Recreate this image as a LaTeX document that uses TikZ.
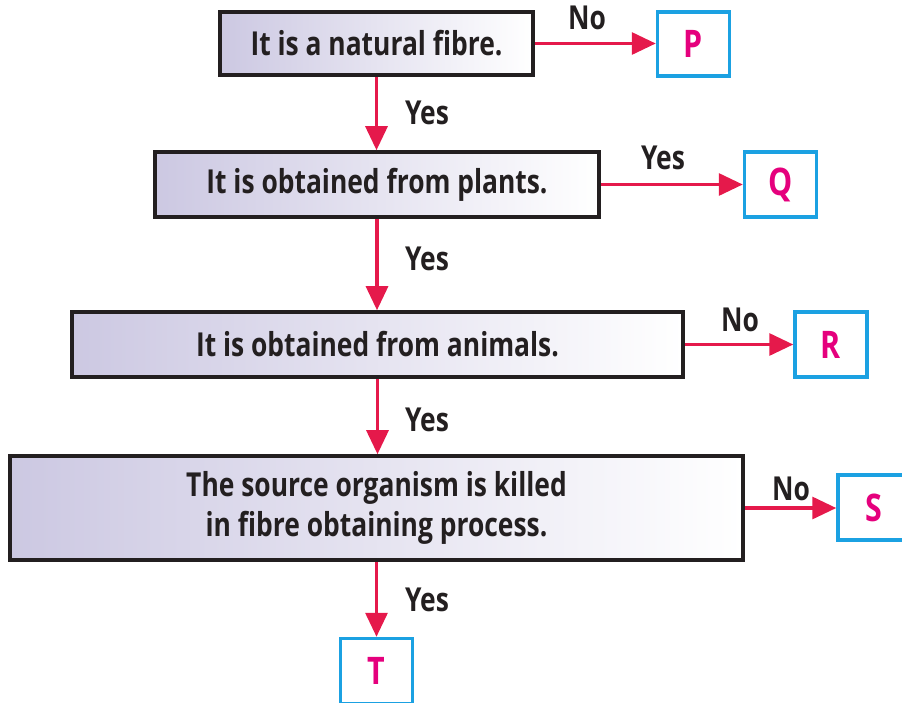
\documentclass[tikz,border=0pt]{standalone}
\usepackage{fontspec}
\setmainfont{Open Sans}[FakeStretch=0.8]
\usetikzlibrary{arrows.meta}
\definecolor{arrowred}{HTML}{E5194B}
\definecolor{lettermag}{HTML}{E5007D}
\definecolor{boxblue}{HTML}{1BA1E2}
\definecolor{txtdark}{HTML}{231F20}
\definecolor{shadel}{HTML}{CCC8E2}
\tikzset{
  stmt/.style={draw=txtdark, line width=3.6pt, left color=shadel, right color=white,
    font=\bfseries\fontsize{33}{40}\selectfont, text=txtdark, align=center, inner sep=0pt},
  outbox/.style={draw=boxblue, line width=3.5pt, fill=white, minimum width=72pt, minimum height=65pt,
    font=\bfseries\fontsize{38}{40}\selectfont, text=lettermag, inner sep=0pt},
  lbl/.style={font=\bfseries\fontsize{33}{36}\selectfont, text=txtdark, inner sep=0pt},
  arr/.style={draw=arrowred, line width=3.2pt, -{Triangle[length=24pt,width=22pt]}}
}
\begin{document}
\begin{tikzpicture}[x=1pt,y=-1pt]
\useasboundingbox (0,0) rectangle (902,702);
\clip (0,0) rectangle (902,702);
\node[stmt, minimum width=313pt, minimum height=63pt] (b1) at (376.5,43.5) {It is a natural fibre.};
\node[stmt, minimum width=444pt, minimum height=65pt] (b2) at (377,184.5) {It is obtained from plants.};
\node[stmt, minimum width=611pt, minimum height=65pt] (b3) at (377.5,344.5) {It is obtained from animals.};
\node[stmt, minimum width=733pt, minimum height=104pt] (b4) at (376.5,508) {The source organism is killed\\in fibre obtaining process.};
\node[outbox, minimum height=64pt] (P) at (693.5,44) {P};
\node[outbox] (Q) at (780.5,184.5) {Q};
\node[outbox] (R) at (831,344.5) {R};
\node[outbox] (S) at (874,507.5) {S};
\node[outbox] (T) at (376.5,671) {T};
\draw[arr] (b1.east) -- (b1.east -| P.west);
\draw[arr] (b2.east) -- (b2.east -| Q.west);
\draw[arr] (b3.east) -- (b3.east -| R.west);
\draw[arr] (b4.east) -- (b4.east -| S.west);
\draw[arr] (b1.south) -- (b1.south |- b2.north);
\draw[arr] (b2.south) -- (b2.south |- b3.north);
\draw[arr] (b3.south) -- (b3.south |- b4.north);
\draw[arr] (b4.south) -- (b4.south |- T.north);
\node[lbl] (l1) at (587,18) {No};
\node[lbl] (l2) at (663,158) {Yes};
\node[lbl] (l3) at (740,320) {No};
\node[lbl] (l4) at (791,489) {No};
\node[lbl] (y1) at (427,113) {Yes};
\node[lbl] (y2) at (427,259) {Yes};
\node[lbl] (y3) at (427,420) {Yes};
\node[lbl] (y4) at (427,600) {Yes};
\end{tikzpicture}
\end{document}
